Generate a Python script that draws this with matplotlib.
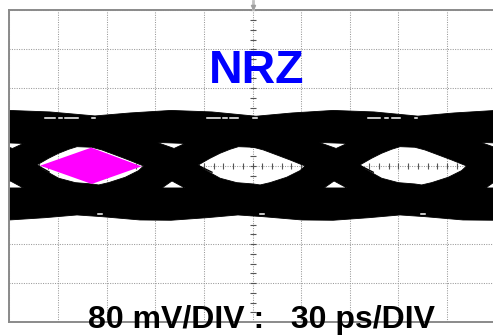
import matplotlib.pyplot as plt
import numpy as np
from matplotlib.path import Path
from matplotlib.patches import PathPatch, Polygon

# scope scale
time_per_div = 30   # ps / div
volt_per_div = 80   # mV / div
n_xdiv = 10
n_ydiv = 8

# outer edges of the trace band (ps, mV)
top_t = [-20, 0, 25.0, 52.8, 74.4, 99.7, 125.0, 152.2, 174.4, 199.7, 225.0, 252.1, 274.3, 300, 320]
top_v = [114.4, 114.4, 111.3, 103.1, 109.2, 114.4, 111.3, 102.5, 109.2, 114.4, 111.3, 102.7, 109.2, 114.4, 114.4]
bot_t = [-20, 0, 22.0, 41.7, 57.1, 80.6, 99.7, 121.9, 141.0, 156.5, 180.5, 199.7, 221.9, 241.0, 256.5, 279.9, 300, 320]
bot_v = [-110.5, -110.5, -105.8, -100.2, -103.7, -110.5, -111.1, -105.8, -100.2, -103.7, -110.5, -111.1,
         -105.8, -100.2, -103.7, -110.5, -111.1, -111.1]

# eye opening outline, relative to the left tip of each eye
eye_dt = [0, 7.2, 13.4, 19.6, 24.7, 33.9, 40.1, 48.4, 56.6, 65.8,
          62.7, 54.5, 44.2, 38.1, 33.9, 23.7, 13.4, 3.1]
eye_dv = [2.5, 16.2, 26.5, 34.7, 40.0, 38.8, 33.3, 23.0, 12.7, 0.4,
          -9.2, -22.8, -33.9, -38.6, -36.6, -33.9, -24.8, -5.7]
eye_start = [17.0, 116.6, 216.3]

# small holes above / below each crossing
cross_t = [0, 99.7, 199.7, 299.5]
up_hole_dt = [-8.6, 8.6, 1.9]
up_hole_dv = [48.7, 46.6, 36.3]
lo_hole_dt = [-5.6, 8.6, 0.6]
lo_hole_dv = [-44.8, -44.8, -30.4]

# thin gaps in the band
gap_top_t = [(22.0, 28.1), (30.6, 32.5), (34.3, 42.3), (51.0, 52.8),
             (121.7, 130.0), (131.8, 134.3), (136.1, 141.0), (150.3, 152.8),
             (221.3, 228.6), (231.7, 233.6), (236.1, 241.0), (250.3, 251.5)]
gap_top_v = 99
gap_bot_t = [(54.7, 57.2), (154.6, 157.1), (253.9, 256.4)]
gap_bot_v = -98.8

# stray traces inside the eyes
stray_t = [(17.5, 24.5), (117.0, 125.0), (216.8, 224.5)]
stray_v = [(1.0, -12.0), (0.5, -12.5), (0.5, -12.5)]

# eye mask
mask_t = [19.0, 50.5, 81.5, 50.8]
mask_v = [1.0, 38.0, -0.5, -36.6]


def oriented(pts, ccw=True):
    pts = np.asarray(pts, dtype=float)
    x, y = pts[:, 0], pts[:, 1]
    area = 0.5 * np.sum(x * np.roll(y, -1) - np.roll(x, -1) * y)
    if (area > 0) != ccw:
        pts = pts[::-1]
    return pts


fig = plt.figure(figsize=(4.93, 3.36), dpi=100)
ax = fig.add_axes([9.4 / 493, 14 / 336, 486.2 / 493, 311.7 / 336])
xmax = time_per_div * n_xdiv
ymax = volt_per_div * n_ydiv / 2
ax.set_xlim(0, xmax)
ax.set_ylim(-ymax, ymax)

# graticule
ax.set_xticks(np.arange(0, xmax + 1, time_per_div))
ax.set_yticks(np.arange(-ymax, ymax + 1, volt_per_div))
ax.tick_params(length=0, labelbottom=False, labelleft=False)
ax.set_axisbelow(True)
ax.grid(True, ls=(0, (1, 1.3)), color='#9a9a9a', lw=0.75)
for s in ax.spines.values():
    s.set_color('#8a8a8a')
    s.set_linewidth(1.4)

# center axis ticks
ax.plot(np.arange(0, xmax + 1, time_per_div / 5), np.zeros(n_xdiv * 5 + 1), '|',
        color='#555555', ms=5, mew=0.8, zorder=1)
ax.plot(np.full(n_ydiv * 4 + 1, xmax / 2), np.arange(-ymax, ymax + 1, volt_per_div / 4), '_',
        color='#555555', ms=5, mew=0.8, zorder=1)

# trace band with eye openings as holes
polys = [oriented(list(zip(top_t, top_v)) + list(zip(bot_t, bot_v))[::-1], True)]
for t0 in eye_start:
    polys.append(oriented([(t0 + dt, dv) for dt, dv in zip(eye_dt, eye_dv)], False))
for tc in cross_t:
    polys.append(oriented([(tc + dt, dv) for dt, dv in zip(up_hole_dt, up_hole_dv)], False))
    polys.append(oriented([(tc + dt, dv) for dt, dv in zip(lo_hole_dt, lo_hole_dv)], False))
verts, codes = [], []
for p in polys:
    verts += list(p) + [p[0]]
    codes += [Path.MOVETO] + [Path.LINETO] * (len(p) - 1) + [Path.CLOSEPOLY]
ax.add_patch(PathPatch(Path(verts, codes), facecolor='black', edgecolor='black', lw=0.6, zorder=2))

for a, b in gap_top_t:
    ax.plot([a, b], [gap_top_v, gap_top_v], color='white', lw=1.1, zorder=2.2)
for a, b in gap_bot_t:
    ax.plot([a, b], [gap_bot_v, gap_bot_v], color='white', lw=1.1, zorder=2.2)
for ts, vs in zip(stray_t, stray_v):
    ax.plot(ts, vs, color='black', lw=1.0, zorder=2.2)

ax.add_patch(Polygon(list(zip(mask_t, mask_v)), closed=True, facecolor='#ff00ff',
                     edgecolor='none', zorder=3))

# trigger marker above the screen
ax.plot([xmax / 2, xmax / 2], [322, 340], color='#c0c0c0', lw=2, clip_on=False, zorder=4)
ax.plot([xmax / 2], [327], 'v', color='#a0a0a0', ms=3, clip_on=False, zorder=4)

ax.text(152.5, 170.8, 'NRZ', color='#0000ff', fontsize=33.5, fontweight='bold',
        family='Liberation Sans', ha='center', va='baseline', zorder=5)
ax.text(155.5, -333.3, '80 mV/DIV :   30 ps/DIV', color='black', fontsize=23, fontweight='bold',
        family='Liberation Sans', ha='center', va='baseline', zorder=5, clip_on=False)

fig.savefig('out.png', dpi=100)
